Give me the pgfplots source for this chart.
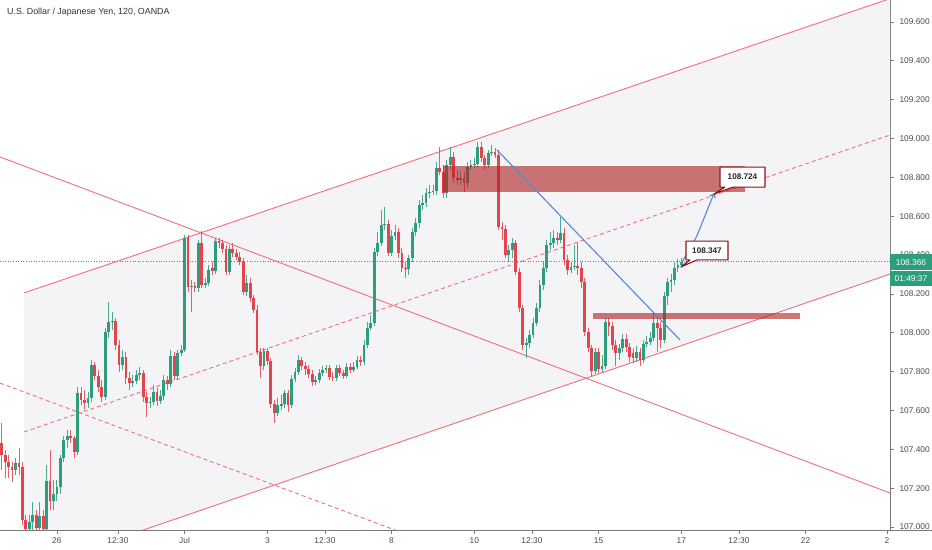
\documentclass[border=0pt]{standalone}
\usepackage{pgfplots}
\pgfplotsset{compat=1.18}
\usepackage{pgfplotstable}
\usepackage{fontspec}
\setmainfont{Liberation Sans}
\usetikzlibrary{arrows.meta}
\definecolor{upc}{RGB}{45,158,125}
\definecolor{downc}{RGB}{228,68,76}
\definecolor{chanred}{RGB}{242,110,120}
\definecolor{zonered}{RGB}{175,35,35}
\definecolor{blueline}{RGB}{85,135,215}
\definecolor{callred}{RGB}{140,20,20}
\definecolor{axisgray}{RGB}{120,120,120}
\definecolor{labelgray}{RGB}{75,75,75}
\definecolor{chanfill}{RGB}{244,244,247}

\pgfplotstableread{
x o h l c
4 107.293 107.355 107.268 107.329
8 106.990 107.062 106.943 107.026
9 107.026 107.129 106.985 107.062
11 106.995 107.129 106.959 107.057
13 106.990 107.319 106.959 107.237
15 107.134 107.242 107.088 107.170
16 107.170 107.242 107.134 107.206
17 107.206 107.371 107.170 107.355
18 107.355 107.469 107.335 107.448
19 107.448 107.501 107.407 107.469
22 107.386 107.721 107.371 107.690
25 107.638 107.695 107.613 107.664
26 107.664 107.860 107.644 107.834
30 107.669 108.024 107.654 108.004
31 108.004 108.158 107.973 108.055
32 108.055 108.107 108.014 108.061
35 107.834 107.911 107.808 107.875
38 107.741 107.783 107.721 107.752
39 107.752 107.808 107.736 107.783
40 107.783 107.824 107.757 107.793
43 107.638 107.669 107.613 107.644
44 107.644 107.731 107.628 107.695
46 107.649 107.705 107.633 107.674
47 107.674 107.783 107.654 107.757
49 107.736 107.911 107.721 107.880
51 107.777 107.911 107.762 107.896
52 107.896 107.937 107.880 107.911
53 107.911 108.503 107.901 108.488
55 108.236 108.272 108.107 108.241
57 108.230 108.478 108.210 108.462
59 108.246 108.282 108.230 108.256
60 108.256 108.349 108.241 108.323
62 108.318 108.488 108.302 108.472
66 108.313 108.452 108.297 108.431
71 108.210 108.297 108.189 108.256
76 107.829 107.921 107.808 107.906
80 107.587 107.664 107.571 107.628
81 107.623 107.680 107.602 107.633
82 107.633 107.705 107.613 107.690
84 107.628 107.783 107.613 107.762
85 107.762 107.819 107.747 107.798
86 107.798 107.885 107.783 107.860
91 107.747 107.777 107.731 107.757
92 107.757 107.813 107.741 107.793
93 107.793 107.829 107.777 107.808
94 107.808 107.834 107.793 107.819
97 107.767 107.834 107.752 107.819
100 107.777 107.844 107.767 107.824
102 107.808 107.849 107.798 107.824
103 107.824 107.880 107.813 107.860
105 107.849 107.963 107.834 107.937
106 107.937 108.055 107.921 108.024
107 108.024 108.091 108.014 108.050
108 108.050 108.436 108.035 108.416
109 108.416 108.519 108.395 108.462
110 108.462 108.632 108.447 108.555
111 108.555 108.647 108.529 108.560
113 108.411 108.529 108.395 108.498
114 108.498 108.555 108.478 108.519
118 108.328 108.400 108.297 108.385
119 108.385 108.539 108.364 108.519
120 108.519 108.591 108.498 108.565
121 108.565 108.683 108.539 108.658
122 108.658 108.709 108.632 108.668
123 108.668 108.745 108.647 108.719
124 108.719 108.761 108.694 108.725
125 108.725 108.761 108.709 108.730
126 108.730 108.879 108.709 108.848
129 108.719 108.889 108.694 108.864
130 108.864 108.956 108.838 108.905
133 108.786 108.828 108.761 108.797
135 108.771 108.879 108.745 108.853
136 108.853 108.889 108.838 108.864
137 108.864 108.900 108.848 108.869
138 108.869 108.982 108.853 108.956
141 108.864 108.941 108.848 108.925
142 108.925 108.967 108.910 108.931
147 108.400 108.452 108.364 108.426
148 108.426 108.488 108.385 108.462
152 107.937 107.973 107.870 107.947
153 107.947 108.014 107.921 107.988
154 107.988 108.076 107.973 108.050
155 108.050 108.153 108.035 108.127
156 108.127 108.272 108.107 108.246
157 108.246 108.364 108.221 108.333
158 108.333 108.478 108.313 108.452
159 108.452 108.519 108.426 108.462
160 108.462 108.529 108.436 108.488
162 108.478 108.596 108.462 108.514
165 108.323 108.364 108.308 108.339
166 108.339 108.452 108.323 108.344
172 107.803 107.921 107.788 107.901
174 107.813 107.885 107.798 107.829
175 107.829 108.076 107.813 108.055
179 107.896 107.942 107.860 107.921
180 107.921 107.993 107.901 107.968
184 107.870 107.932 107.849 107.901
186 107.860 107.963 107.844 107.942
187 107.942 107.983 107.927 107.952
188 107.952 108.004 107.937 107.973
189 107.973 108.107 107.958 108.050
192 107.963 108.210 107.947 108.189
193 108.189 108.282 108.143 108.261
194 108.261 108.302 108.210 108.272
195 108.272 108.364 108.246 108.333
196 108.333 108.380 108.313 108.349
197 108.349 108.385 108.333 108.366
}\upcandles

\pgfplotstableread{
x o h l c
0 107.432 107.535 107.293 107.371
1 107.371 107.396 107.252 107.335
2 107.335 107.371 107.252 107.309
3 107.309 107.335 107.232 107.293
5 107.329 107.407 107.268 107.309
6 107.309 107.335 107.010 107.036
7 107.036 107.062 106.943 106.990
10 107.062 107.088 106.943 106.995
12 107.057 107.088 106.943 106.990
14 107.237 107.396 107.088 107.134
20 107.469 107.501 107.432 107.458
21 107.458 107.469 107.355 107.386
23 107.690 107.721 107.628 107.654
24 107.654 107.705 107.602 107.638
27 107.834 107.849 107.757 107.777
28 107.777 107.808 107.695 107.721
29 107.721 107.757 107.644 107.669
33 108.061 108.076 107.911 107.937
34 107.937 107.963 107.798 107.834
36 107.875 107.901 107.736 107.767
37 107.767 107.798 107.705 107.741
41 107.793 107.808 107.644 107.669
42 107.669 107.695 107.566 107.638
45 107.695 107.716 107.623 107.649
48 107.757 107.777 107.705 107.736
50 107.880 107.901 107.757 107.777
54 108.488 108.503 108.210 108.236
56 108.241 108.261 108.210 108.230
58 108.462 108.524 108.230 108.246
61 108.333 108.364 108.297 108.318
63 108.472 108.488 108.436 108.462
64 108.462 108.478 108.411 108.431
65 108.431 108.452 108.297 108.313
67 108.431 108.462 108.390 108.411
68 108.411 108.431 108.375 108.390
69 108.390 108.416 108.349 108.364
70 108.364 108.385 108.194 108.210
72 108.256 108.282 108.158 108.179
73 108.179 108.194 108.102 108.117
74 108.117 108.143 107.885 107.901
75 107.901 107.921 107.767 107.829
77 107.906 107.921 107.834 107.855
78 107.855 107.870 107.613 107.633
79 107.633 107.654 107.535 107.587
83 107.690 107.705 107.592 107.628
87 107.860 107.875 107.808 107.829
88 107.829 107.849 107.783 107.813
89 107.813 107.834 107.767 107.788
90 107.788 107.808 107.726 107.747
95 107.819 107.834 107.757 107.772
96 107.772 107.798 107.752 107.767
98 107.819 107.834 107.777 107.793
99 107.793 107.808 107.762 107.777
101 107.824 107.844 107.793 107.808
104 107.860 107.880 107.829 107.849
112 108.560 108.580 108.395 108.411
115 108.519 108.539 108.385 108.411
116 108.411 108.436 108.313 108.333
117 108.333 108.364 108.282 108.328
127 108.848 108.956 108.812 108.828
128 108.828 108.864 108.694 108.719
131 108.905 108.931 108.771 108.797
132 108.797 108.838 108.761 108.786
134 108.797 108.828 108.725 108.771
139 108.956 108.982 108.879 108.900
140 108.900 108.915 108.838 108.864
143 108.931 108.951 108.900 108.915
144 108.915 108.941 108.529 108.544
145 108.544 108.570 108.478 108.534
146 108.534 108.555 108.385 108.400
149 108.462 108.478 108.297 108.313
150 108.313 108.333 108.107 108.127
151 108.127 108.143 107.911 107.937
161 108.488 108.519 108.452 108.478
163 108.514 108.539 108.349 108.375
164 108.375 108.400 108.297 108.323
167 108.344 108.467 108.297 108.333
168 108.333 108.364 108.230 108.261
169 108.261 108.282 107.983 108.004
170 108.004 108.024 107.901 107.921
171 107.921 107.937 107.777 107.803
173 107.901 107.921 107.793 107.813
176 108.055 108.076 107.983 108.035
177 108.035 108.055 107.911 107.937
178 107.937 107.963 107.829 107.896
181 107.968 107.993 107.901 107.927
182 107.927 107.947 107.849 107.875
183 107.896 107.921 107.844 107.870
185 107.901 107.921 107.829 107.860
190 108.050 108.076 107.901 108.024
191 108.024 108.055 107.921 107.963
}\downcandles

\pgfplotsset{
  candle/.style={only marks, mark=*, mark size=0pt, mark options={draw=none, fill=none}, forget plot,
    error bars/.cd, y dir=plus, y explicit, error mark=none},
}

\begin{document}
\begin{tikzpicture}
\useasboundingbox (0,0) rectangle (932bp,550bp);
\begin{axis}[
  at={(0,20bp)}, anchor=south west,
  scale only axis, width=890bp, height=530bp,
  xmin=-0.493, xmax=257.48, ymin=106.9846, ymax=109.713,
  axis x line*=bottom, axis y line*=right,
  axis line style={draw=axisgray, line width=0.8bp},
  xtick={16,33.7,53,77,93.7,113,137,153.7,173,197,213.7,233,256.6},
  xticklabels={26,12:30,Jul,3,12:30,8,10,12:30,15,17,12:30,22,2},
  ytick={107,107.2,107.4,107.6,107.8,108,108.2,108.4,108.6,108.8,109,109.2,109.4,109.6},
  yticklabel={\pgfmathprintnumber[fixed,fixed zerofill,precision=3,assume math mode=true]{\tick}},
  tick style={draw=axisgray, line width=0.6bp},
  major tick length=4bp,
  tick align=outside,
  ticklabel style={font=\fontsize{8.4}{10}\selectfont, text=labelgray},
  yticklabel style={xshift=2bp},
  clip=true,
]
% ascending channel fill
\addplot[fill=chanfill, draw=none, forget plot] coordinates {(6.46,108.205) (257.48,109.720) (257.48,108.302) (6.46,106.774)} -- cycle;
% ascending channel lines
\addplot[chanred, line width=0.9bp, forget plot] coordinates {(6.46,108.205) (257.48,109.720)};
\addplot[chanred, line width=0.9bp, dash pattern=on 4bp off 3bp, forget plot] coordinates {(6.46,107.489) (257.48,109.018)};
\addplot[chanred, line width=0.9bp, forget plot] coordinates {(6.46,106.774) (257.48,108.302)};
% descending channel lines
\addplot[chanred, line width=0.9bp, forget plot] coordinates {(-0.493,108.905) (257.48,107.175)};
\addplot[chanred, line width=0.9bp, dash pattern=on 4bp off 3bp, forget plot] coordinates {(-0.493,107.741) (120,106.945)};
% current price line
\addplot[upc, line width=1bp, dash pattern=on 1bp off 1.6bp, forget plot] coordinates {(-0.493,108.366) (257.48,108.366)};
% wicks
\addplot[candle, error bar style={line width=0.9bp, draw=upc, draw opacity=0.85}]
  table[x=x, y=l, y error expr=\thisrow{h}-\thisrow{l}] {\upcandles};
\addplot[candle, error bar style={line width=0.9bp, draw=downc, draw opacity=0.85}]
  table[x=x, y=l, y error expr=\thisrow{h}-\thisrow{l}] {\downcandles};
% bodies
\addplot[candle, error bar style={line width=2.8bp, draw=upc}]
  table[x=x, y=o, y error expr={max(\thisrow{c}-\thisrow{o},0.004)}] {\upcandles};
\addplot[candle, error bar style={line width=2.8bp, draw=downc}]
  table[x=x, y=c, y error expr={max(\thisrow{o}-\thisrow{c},0.004)}] {\downcandles};
% zones
\addplot[fill=zonered, fill opacity=0.62, draw=none, forget plot] coordinates {(127.9,108.725) (215.4,108.725) (215.4,108.859) (127.9,108.859)} -- cycle;
\addplot[fill=zonered, fill opacity=0.62, draw=none, forget plot] coordinates {(171.4,108.071) (231.4,108.071) (231.4,108.102) (171.4,108.102)} -- cycle;
% blue trend line and projection
\addplot[blueline, line width=1.1bp, forget plot] coordinates {(143.57,108.941) (196.6,107.963)};
\addplot[blueline, line width=1.1bp, forget plot, -{Straight Barb[length=3.5bp,width=6bp]}] coordinates {(196.9,108.354) (201.5,108.498) (206.5,108.719)};
% callouts
\draw[fill=white, draw=callred, line width=1.1bp, line join=round]
  (axis cs:198.35,108.472) -- (axis cs:210.52,108.472) -- (axis cs:210.52,108.375) -- (axis cs:201.54,108.375)
  -- (axis cs:196.90,108.339) -- (axis cs:199.51,108.375) -- (axis cs:198.35,108.375) -- cycle;
\node[font=\fontsize{8.2}{10}\selectfont\bfseries, text=black!85, inner sep=0pt] at (axis cs:204.43,108.423) {108.347};
\draw[fill=white, draw=callred, line width=1.1bp, line join=round]
  (axis cs:208.20,108.853) -- (axis cs:221.25,108.853) -- (axis cs:221.25,108.750) -- (axis cs:211.97,108.750)
  -- (axis cs:206.46,108.714) -- (axis cs:209.65,108.750) -- (axis cs:208.20,108.750) -- cycle;
\node[font=\fontsize{8.2}{10}\selectfont\bfseries, text=black!85, inner sep=0pt] at (axis cs:214.72,108.802) {108.724};
\end{axis}
\begin{scope}[x=1bp, y=-1bp, shift={(0,550bp)}]
\draw[axisgray, line width=0.8bp] (890,530) -- (932,530);
\fill[upc] (890,254.5) rectangle (932,270);
\fill[upc] (890,270.8) rectangle (932,286);
\node[text=white, font=\fontsize{8.4}{10}\selectfont, inner sep=0pt] at (911,262.5) {108.366};
\node[text=white, font=\fontsize{8.4}{10}\selectfont, inner sep=0pt] at (911,278.5) {01:49:37};
\node[anchor=west, text=black!80, font=\fontsize{8.9}{11}\selectfont, inner sep=0pt] at (7,12.5) {U.S. Dollar / Japanese Yen, 120, OANDA};
\end{scope}
\end{tikzpicture}
\end{document}
